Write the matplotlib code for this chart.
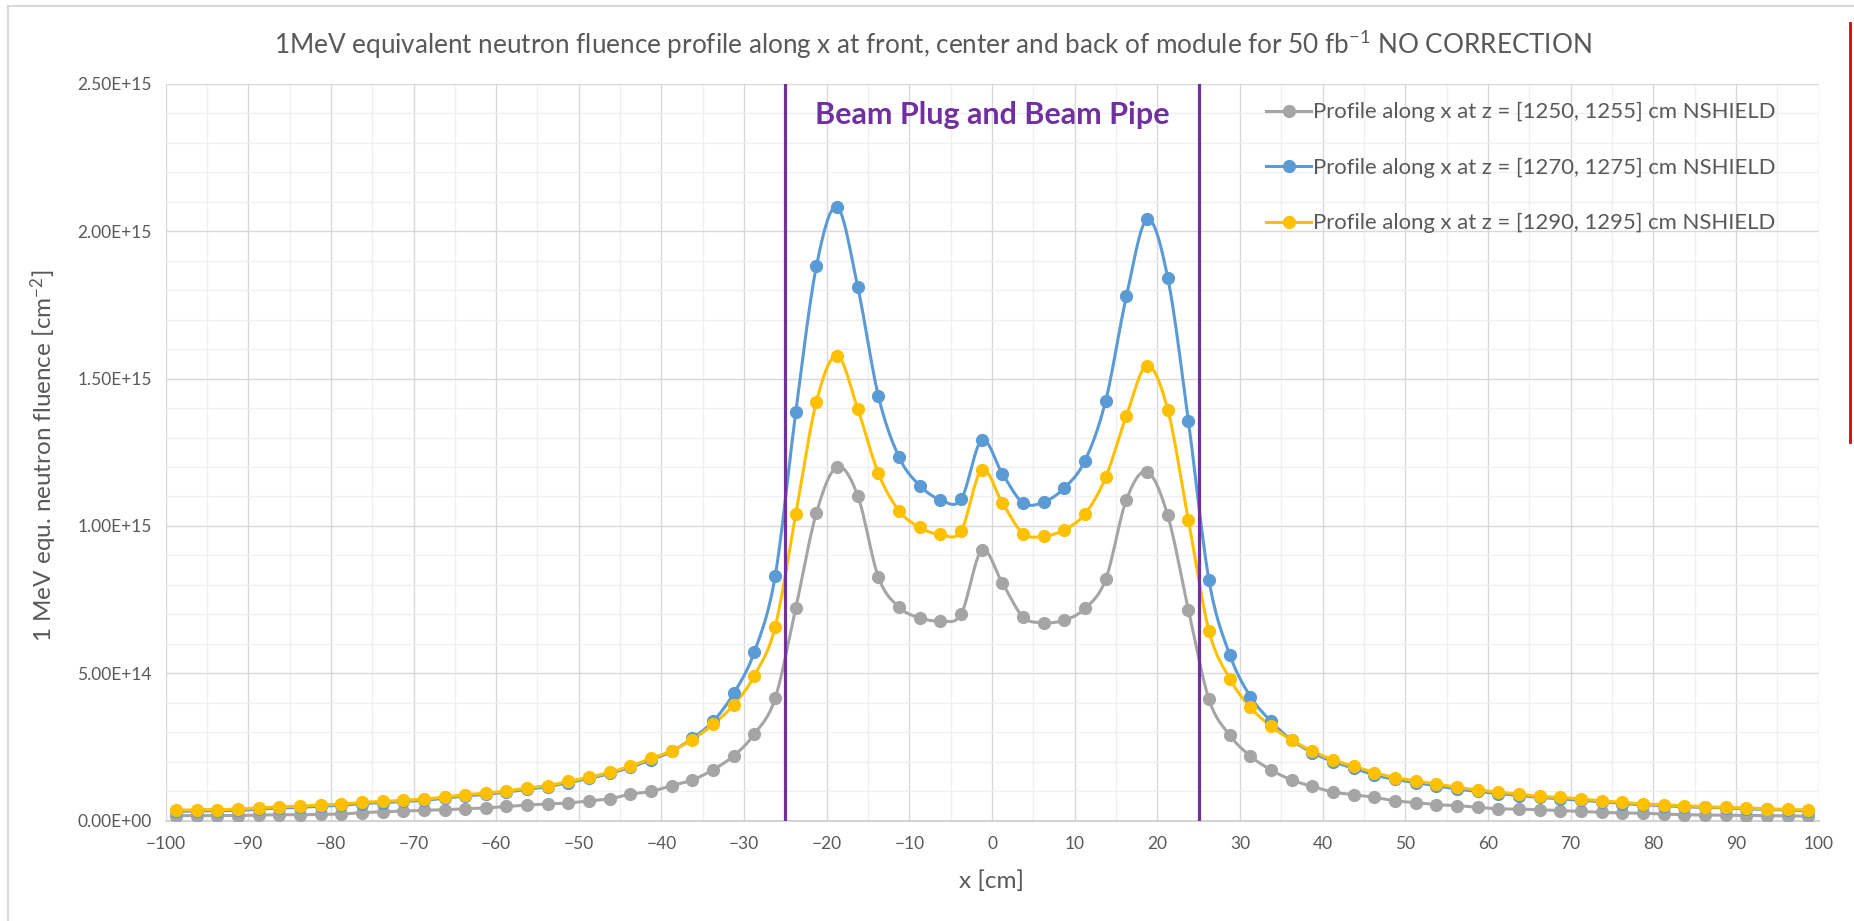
import numpy as np
import matplotlib
matplotlib.use("Agg")
import matplotlib.pyplot as plt
from matplotlib.lines import Line2D
from matplotlib.ticker import MultipleLocator, FuncFormatter

# --- Data (fluence in units of 1E14 cm^-2) ---
x_cm = np.arange(-98.75, 100, 2.5)

fluence_1250 = [0.17, 0.17, 0.17, 0.17, 0.19, 0.20, 0.20, 0.21, 0.22, 0.27,
                0.30, 0.33, 0.35, 0.37, 0.40, 0.43, 0.48, 0.53, 0.56, 0.60,
                0.67, 0.74, 0.90, 0.99, 1.19, 1.38, 1.73, 2.20, 2.94, 4.15,
                7.22, 10.45, 12.00, 11.02, 8.26, 7.24, 6.88, 6.78, 7.01, 9.17,
                8.06, 6.91, 6.72, 6.80, 7.20, 8.19, 10.89, 11.84, 10.36, 7.16,
                4.11, 2.90, 2.19, 1.72, 1.38, 1.16, 0.97, 0.88, 0.79, 0.67,
                0.61, 0.54, 0.51, 0.45, 0.40, 0.39, 0.37, 0.34, 0.31, 0.28,
                0.26, 0.25, 0.22, 0.20, 0.19, 0.18, 0.17, 0.17, 0.16, 0.15]

fluence_1270 = [0.31, 0.33, 0.33, 0.35, 0.39, 0.43, 0.45, 0.49, 0.52, 0.58,
                0.61, 0.65, 0.69, 0.76, 0.84, 0.89, 0.97, 1.06, 1.15, 1.29,
                1.43, 1.60, 1.81, 2.07, 2.35, 2.80, 3.37, 4.32, 5.73, 8.29,
                13.86, 18.82, 20.82, 18.11, 14.40, 12.33, 11.37, 10.89, 10.90, 12.91,
                11.77, 10.78, 10.81, 11.29, 12.22, 14.25, 17.79, 20.40, 18.43, 13.57,
                8.15, 5.63, 4.21, 3.37, 2.73, 2.31, 2.00, 1.78, 1.55, 1.40,
                1.29, 1.18, 1.07, 0.99, 0.92, 0.85, 0.79, 0.74, 0.69, 0.64,
                0.58, 0.54, 0.51, 0.47, 0.45, 0.43, 0.40, 0.38, 0.36, 0.33]

fluence_1290 = [0.35, 0.37, 0.37, 0.39, 0.43, 0.47, 0.49, 0.53, 0.56, 0.62,
                0.65, 0.69, 0.73, 0.80, 0.88, 0.93, 1.01, 1.10, 1.19, 1.33,
                1.47, 1.64, 1.85, 2.11, 2.37, 2.75, 3.27, 3.93, 4.92, 6.57,
                10.41, 14.22, 15.78, 13.97, 11.78, 10.51, 9.95, 9.71, 9.83, 11.91,
                10.78, 9.74, 9.65, 9.87, 10.41, 11.65, 13.74, 15.44, 13.95, 10.20,
                6.43, 4.82, 3.84, 3.20, 2.73, 2.36, 2.06, 1.84, 1.63, 1.46,
                1.35, 1.24, 1.13, 1.04, 0.97, 0.90, 0.82, 0.79, 0.73, 0.67,
                0.62, 0.57, 0.54, 0.51, 0.47, 0.45, 0.43, 0.40, 0.38, 0.36]

series_labels = ["Profile along x at z = [1250, 1255] cm NSHIELD",
                 "Profile along x at z = [1270, 1275] cm NSHIELD",
                 "Profile along x at z = [1290, 1295] cm NSHIELD"]
series_colors = ["#A5A5A5", "#5B9BD5", "#FFC000"]
beam_edges = [-25, 25]

TEXT_GREY = "#595959"
PURPLE = "#7030A0"


def smooth_curve(x, y, n=12):
    """Excel-like smoothed line (Catmull-Rom through the points)."""
    x = np.asarray(x, float)
    y = np.asarray(y, float)
    xp = np.concatenate([[2 * x[0] - x[1]], x, [2 * x[-1] - x[-2]]])
    yp = np.concatenate([[2 * y[0] - y[1]], y, [2 * y[-1] - y[-2]]])
    t = np.linspace(0, 1, n, endpoint=False)
    xs, ys = [], []
    for i in range(1, len(xp) - 2):
        for arr, out in ((xp, xs), (yp, ys)):
            p0, p1, p2, p3 = arr[i - 1], arr[i], arr[i + 1], arr[i + 2]
            out.append(0.5 * (2 * p1 + (-p0 + p2) * t
                              + (2 * p0 - 5 * p1 + 4 * p2 - p3) * t ** 2
                              + (-p0 + 3 * p1 - 3 * p2 + p3) * t ** 3))
    xs.append([x[-1]])
    ys.append([y[-1]])
    return np.concatenate(xs), np.concatenate(ys)


plt.rcParams['font.family'] = ['Lato', 'DejaVu Sans']
plt.rcParams['mathtext.default'] = 'regular'

fig = plt.figure(figsize=(18.54, 9.21), dpi=100)
ax = fig.add_axes([0.0893, 0.1090, 0.8916, 0.7999])

handles = []
for vals, color, label in zip([fluence_1250, fluence_1270, fluence_1290],
                              series_colors, series_labels):
    y = np.array(vals) * 1e14
    sx, sy = smooth_curve(x_cm, y)
    ax.plot(sx, sy, color=color, lw=2.2, zorder=3)
    ax.plot(x_cm, y, 'o', color=color, ms=8.5, zorder=4)
    handles.append(Line2D([], [], color=color, lw=2.2, marker='o', ms=8.5,
                          label=label))

for xe in beam_edges:
    ax.axvline(xe, color=PURPLE, lw=2.3, zorder=5)

ax.text(0, 2.394e15, "Beam Plug and Beam Pipe", color=PURPLE, fontsize=22,
        fontweight='bold', ha='center', va='center', zorder=6)

ax.set_xlim(-100, 100)
ax.set_ylim(0, 2.5e15)
ax.xaxis.set_major_locator(MultipleLocator(10))
ax.xaxis.set_minor_locator(MultipleLocator(5))
ax.yaxis.set_major_locator(MultipleLocator(5e14))
ax.yaxis.set_minor_locator(MultipleLocator(1e14))
ax.yaxis.set_major_formatter(FuncFormatter(lambda v, p: f"{v:.2E}"))
ax.grid(which='major', color='#D9D9D9', lw=1.0, zorder=0)
ax.grid(which='minor', color='#F0F0F0', lw=1.0, zorder=0)
ax.set_axisbelow(True)
ax.tick_params(which='both', length=0, labelsize=12.5, colors=TEXT_GREY)
ax.tick_params(axis='x', pad=11)
ax.tick_params(axis='y', pad=10)
for side in ['top', 'right', 'left']:
    ax.spines[side].set_visible(False)
ax.spines['bottom'].set_color('#D0D0D0')
ax.spines['bottom'].set_linewidth(1.3)

leg = ax.legend(handles=handles, loc='upper left', bbox_to_anchor=(0.666, 0.975),
                frameon=False, fontsize=15.9, labelspacing=1.6, handlelength=2.0,
                handletextpad=0.1, borderpad=0, borderaxespad=0)
for txt in leg.get_texts():
    txt.set_color(TEXT_GREY)

fig.text(0.503, 0.952,
         "1MeV equivalent neutron fluence profile along x at front, center and back of module for 50 fb$^{-1}$ NO CORRECTION",
         ha='center', va='center', fontsize=18.8, color=TEXT_GREY)
fig.text(0.0237, 0.505, "1 MeV equ. neutron fluence [cm$^{-2}$]", rotation=90,
         ha='center', va='center', fontsize=17.5, color=TEXT_GREY)
fig.text(0.535, 0.0434, "x [cm]", ha='center', va='center', fontsize=17.5,
         color=TEXT_GREY)

# screenshot frame
fig.add_artist(Line2D([0.0045, 0.0045], [0, 0.993], color='#D9D9D9', lw=1.5))
fig.add_artist(Line2D([0.0045, 1.0], [0.993, 0.993], color='#D9D9D9', lw=1.5))
fig.add_artist(Line2D([0.998, 0.998], [0.52, 0.975], color='#E00000', lw=2.0))

fig.savefig("out.png", dpi=100)
